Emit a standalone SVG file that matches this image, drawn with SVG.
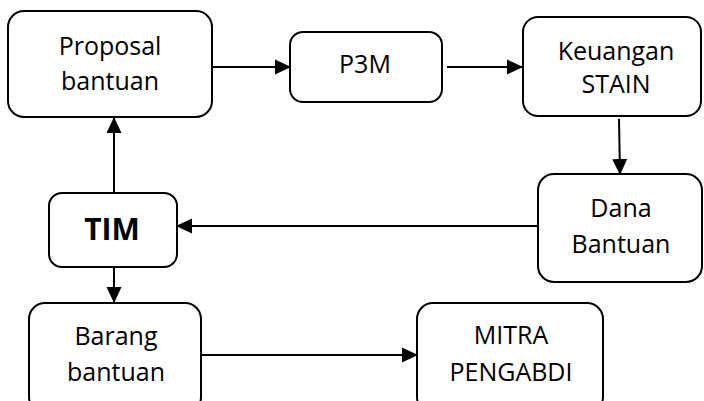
<svg xmlns="http://www.w3.org/2000/svg" width="704" height="401" viewBox="0 0 704 401">
<style>
.box{fill:#fff;stroke:#000;stroke-width:2}
.t{font-family:"Open Sans","Noto Sans",sans-serif;font-size:25px;fill:#000;text-anchor:middle}
.b{font-family:"Open Sans","Liberation Sans",sans-serif;font-size:30px;font-weight:bold;fill:#000;text-anchor:middle}
.c{stroke:#000;stroke-width:2;fill:none;marker-end:url(#ah)}
</style>
<defs>
<marker id="ah" markerUnits="userSpaceOnUse" markerWidth="16" markerHeight="16" viewBox="0 0 16 16" refX="15" refY="8" orient="auto">
<path d="M0,0.5 L16,8 L0,15.5 Z" fill="#000"/>
</marker>
</defs>
<rect width="704" height="401" fill="#fff"/>
<g id="connectors">
<line class="c" x1="212" y1="67" x2="290" y2="67"/>
<line class="c" x1="447" y1="67" x2="522" y2="67"/>
<line class="c" x1="619" y1="119" x2="620" y2="174"/>
<line class="c" x1="538" y1="226" x2="177" y2="226"/>
<line class="c" x1="114" y1="193" x2="114" y2="118"/>
<line class="c" x1="114" y1="267" x2="114" y2="302"/>
<line class="c" x1="201" y1="355" x2="417" y2="355"/>
</g>
<g id="proposal">
<rect class="box" x="8" y="11" width="204" height="106" rx="16"/>
<text class="t" x="110" y="55">Proposal</text>
<text class="t" x="110" y="90">bantuan</text>
</g>
<g id="p3m">
<rect class="box" x="290" y="32" width="152" height="70" rx="13"/>
<text class="t" x="365" y="73">P3M</text>
</g>
<g id="keuangan">
<rect class="box" x="523" y="17" width="178" height="99" rx="15"/>
<text class="t" x="616" y="60">Keuangan</text>
<text class="t" x="616" y="93">STAIN</text>
</g>
<g id="dana">
<rect class="box" x="538" y="174" width="164" height="108" rx="16"/>
<text class="t" x="621" y="217">Dana</text>
<text class="t" x="621" y="253">Bantuan</text>
</g>
<g id="tim">
<rect class="box" x="49" y="193" width="128" height="74" rx="13"/>
<text class="b" x="112" y="240">TIM</text>
</g>
<g id="barang">
<rect class="box" x="29" y="303" width="172" height="110" rx="16"/>
<text class="t" x="116" y="345">Barang</text>
<text class="t" x="116" y="381">bantuan</text>
</g>
<g id="mitra">
<rect class="box" x="417" y="303" width="186" height="110" rx="16"/>
<text class="t" x="511" y="344">MITRA</text>
<text class="t" x="511" y="381">PENGABDI</text>
</g>
</svg>
